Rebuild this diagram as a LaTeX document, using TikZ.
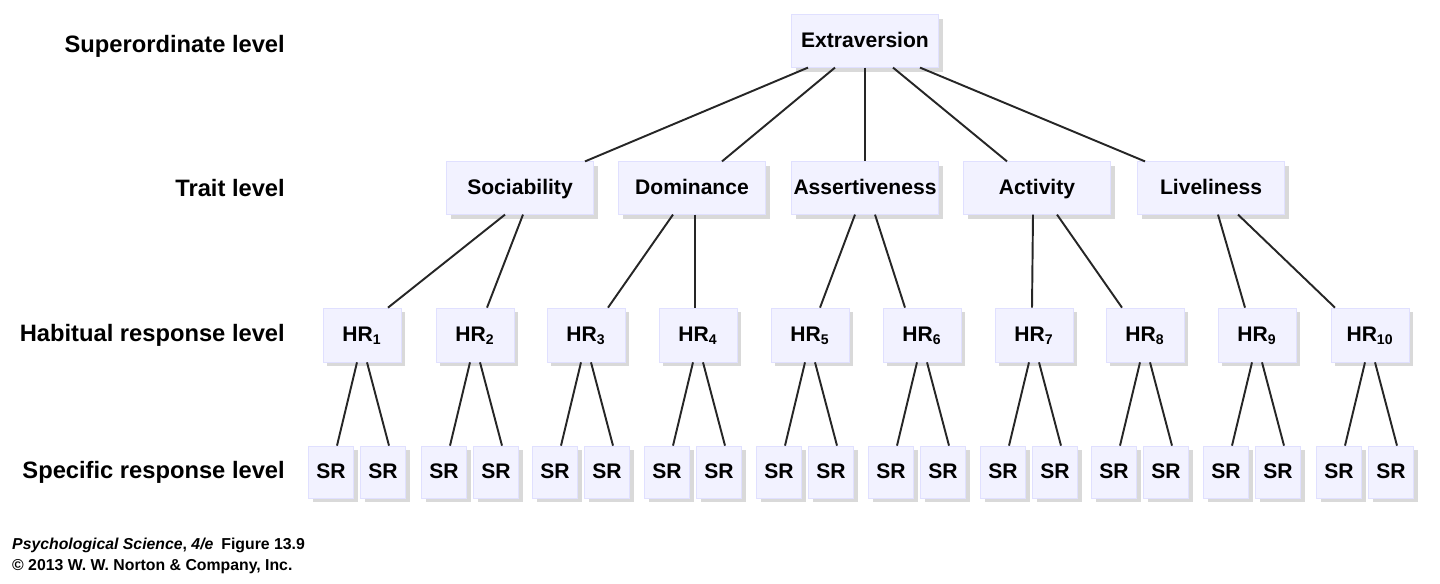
\documentclass[tikz,border=0pt]{standalone}
\usepackage{fontspec}
\setmainfont{Liberation Sans}
\usetikzlibrary{shadows, positioning}

\begin{document}
\begin{tikzpicture}[
    x=0.02cm, y=-0.02cm,
    box/.style={rectangle, draw=blue!12, fill=blue!5, drop shadow={opacity=0.3, shadow xshift=2.5pt, shadow yshift=-2.5pt}, font=\fontsize{12}{14}\selectfont\bfseries, align=center, inner sep=0pt, text height=1.6ex, text depth=0.3ex},
    tbox/.style={box, minimum width=2.95cm, minimum height=1.05cm},
    hbox/.style={box, minimum width=1.56cm, minimum height=1.08cm},
    sbox/.style={box, minimum width=0.9cm, minimum height=1.04cm},
    lvl/.style={anchor=east, font=\fontsize{13.5}{16}\selectfont\bfseries},
    link/.style={draw=black!85, line width=1.1pt}
]
    \useasboundingbox (0,0) rectangle (1440,584);

    % level labels
    \node[lvl] (l1) at (291,46) {Superordinate level};
    \node[lvl] (l2) at (291,188) {Trait level};
    \node[lvl] (l3) at (291,335) {Habitual response level};
    \node[lvl] (l4) at (291,472) {Specific response level};

    % top
    \node[tbox] (ext) at (865,41) {Extraversion};

    % traits
    \foreach \n/\x/\t in {1/520/Sociability, 2/692/Dominance, 3/865/Assertiveness, 4/1037/Activity, 5/1211/Liveliness}
        \node[tbox] (t\n) at (\x,188) {\t};

    \foreach \n/\a/\b in {1/-57/65, 2/-30/30, 3/0/0, 4/28/-30, 5/55/-66}
        \draw[link] ([xshift=\a*0.02cm]ext.south) -- ([xshift=\b*0.02cm]t\n.north);

    % habitual and specific responses
    \foreach \i/\x in {1/362, 2/475, 3/586, 4/698, 5/810, 6/922, 7/1034, 8/1145, 9/1257, 10/1370} {
        \node[hbox] (h\i) at (\x,335) {HR\textsubscript{\i}};
        \node[sbox] (s\i a) at (\x-31,472) {SR};
        \node[sbox] (s\i b) at (\x+21,472) {SR};
        \draw[link] ([xshift=-0.1cm]h\i.south) -- ([xshift=0.12cm]s\i a.north);
        \draw[link] ([xshift=0.1cm]h\i.south) -- ([xshift=0.12cm]s\i b.north);
    }

    \foreach \t/\h/\a/\b in {1/1/-15/26, 1/2/3/12, 2/3/-19/22, 2/4/3/-3, 3/5/-10/10, 3/6/10/-17, 4/7/-4/-2, 4/8/20/-23, 5/9/7/-12, 5/10/27/-35}
        \draw[link] ([xshift=\a*0.02cm]t\t.south) -- ([xshift=\b*0.02cm]h\h.north);

    % credit
    \node[anchor=west, font=\fontsize{9}{10}\selectfont\bfseries] (c1) at (6,545) {\textit{Psychological Science}, \textit{4/e}\enspace Figure 13.9};
    \node[anchor=west, font=\fontsize{9}{10}\selectfont\bfseries] (c2) at (6,567) {© 2013 W. W. Norton \& Company, Inc.};
\end{tikzpicture}
\end{document}
